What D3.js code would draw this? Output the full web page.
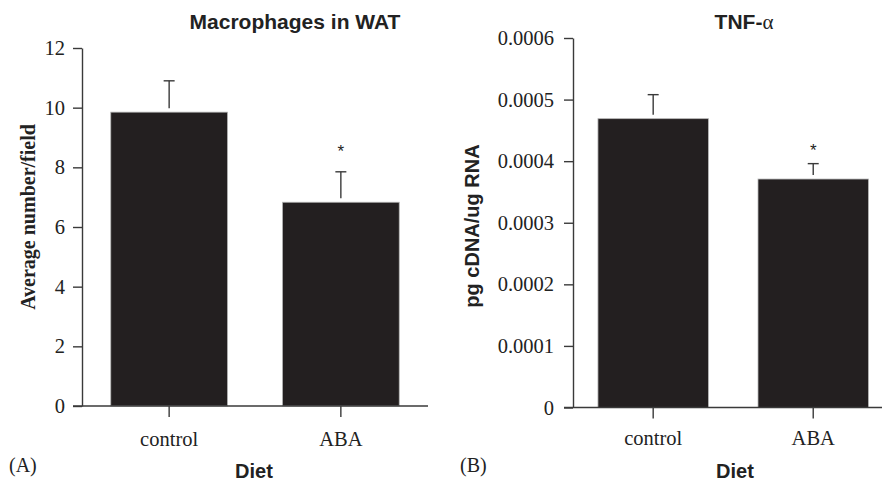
<!DOCTYPE html>
<html lang="en">
<head>
  <meta charset="UTF-8">
  <title>Macrophages and TNF-alpha by diet</title>
  <script src="https://d3js.org/d3.v7.min.js"></script>
  <style>
    body { margin: 0; padding: 0; background: white; }
    svg { display: block; }
    .serif { font-family: 'Liberation Serif', 'Times New Roman', serif; }
    .sans { font-family: 'Liberation Sans', Arial, sans-serif; font-weight: bold; }
  </style>
</head>
<body>
  <div id="chart"></div>

  <script>
    // values
    const diets = ["control", "ABA"];
    const macroMean = [9.85, 6.83];
    const macroErr = [1.05, 1.02];
    const macroTicks = [0, 2, 4, 6, 8, 10, 12];
    const tnfMean = [0.000469, 0.000371];
    const tnfErr = [0.000039, 0.000025];
    const tnfTicks = [0, 0.0001, 0.0002, 0.0003, 0.0004, 0.0005, 0.0006];
    const significant = [false, true];

    const width = 882, height = 484;
    const barColor = "#231f20", axisColor = "#3a3a3a";

    const svg = d3.select("#chart").append("svg")
      .attr("width", width)
      .attr("height", height);

    const panels = [
      {
        means: macroMean, errs: macroErr, ticks: macroTicks, domain: [0, 12],
        fmt: d => d3.format("d")(d),
        axisX: 82, y0: 406, y1: 48, xRange: [82, 428], padIn: 0.32, padOut: 0.1675,
        baseEnd: 428, tickPad: 8, xPad: 14, starGap: 22,
        title: "Macrophages in WAT", titleX: 295,
        ylabel: "Average number/field", ylabelFont: "serif", ylabelX: 35, ylabelY: 217,
        letter: "(A)", letterX: 9, dietX: 254
      },
      {
        means: tnfMean, errs: tnfErr, ticks: tnfTicks, domain: [0, 0.0006],
        fmt: d => d === 0 ? "0" : d3.format(".4f")(d),
        axisX: 573, y0: 407.5, y1: 38, xRange: [573, 893.4], padIn: 0.31, padOut: 0.156,
        baseEnd: 882, tickPad: 10, xPad: 12, starGap: 15,
        title: "TNF-", titleX: 744,
        ylabel: "pg cDNA/ug RNA", ylabelFont: "sans", ylabelX: 479, ylabelY: 226,
        letter: "(B)", letterX: 460, dietX: 735
      }
    ];

    panels.forEach(p => {
      const g = svg.append("g");
      const y = d3.scaleLinear().domain(p.domain).range([p.y0, p.y1]);
      const x = d3.scaleBand().domain(diets).range(p.xRange)
        .paddingInner(p.padIn).paddingOuter(p.padOut);

      // bars
      g.selectAll("rect.bar")
        .data(diets)
        .enter().append("rect")
        .attr("class", "bar")
        .attr("x", d => x(d))
        .attr("y", (d, i) => y(p.means[i]))
        .attr("width", x.bandwidth())
        .attr("height", (d, i) => y(0) - y(p.means[i]))
        .attr("fill", barColor)
        .attr("stroke", "#b5b5b5")
        .attr("stroke-width", 0.8);

      // upper error bars
      diets.forEach((d, i) => {
        const cx = x(d) + x.bandwidth() / 2;
        const top = y(p.means[i] + p.errs[i]);
        g.append("line")
          .attr("x1", cx).attr("x2", cx)
          .attr("y1", y(p.means[i]) - 4).attr("y2", top)
          .attr("stroke", axisColor).attr("stroke-width", 1.4);
        g.append("line")
          .attr("x1", cx - 5.5).attr("x2", cx + 5.5)
          .attr("y1", top).attr("y2", top)
          .attr("stroke", axisColor).attr("stroke-width", 1.4);
        if (significant[i]) {
          g.append("text")
            .attr("class", "sans")
            .attr("x", cx)
            .attr("y", top - p.starGap + 7)
            .attr("text-anchor", "middle")
            .style("font-weight", "normal")
            .style("font-size", "17px")
            .attr("fill", "#222")
            .text("*");
        }
      });

      // y axis
      const yAxis = g.append("g")
        .attr("transform", `translate(${p.axisX},0)`)
        .call(d3.axisLeft(y).tickValues(p.ticks).tickFormat(p.fmt)
          .tickSize(9).tickSizeOuter(0).tickPadding(p.tickPad));
      yAxis.select(".domain").attr("stroke", axisColor).attr("stroke-width", 1.4);
      yAxis.selectAll(".tick line").attr("stroke", axisColor).attr("stroke-width", 1.4);
      yAxis.selectAll(".tick text")
        .attr("class", "serif")
        .attr("fill", "#222")
        .style("font-size", "20.5px");

      // x axis
      const xAxis = g.append("g")
        .attr("transform", `translate(0,${p.y0})`)
        .call(d3.axisBottom(x).tickSize(11).tickSizeOuter(0).tickPadding(p.xPad));
      xAxis.select(".domain").remove();
      xAxis.selectAll(".tick line").attr("stroke", axisColor).attr("stroke-width", 1.4);
      xAxis.selectAll(".tick text")
        .attr("class", "serif")
        .attr("fill", "#222")
        .style("font-size", "20.5px");
      g.append("line")
        .attr("x1", p.axisX - 9).attr("x2", p.baseEnd)
        .attr("y1", p.y0).attr("y2", p.y0)
        .attr("stroke", axisColor).attr("stroke-width", 1.4);

      // title
      const t = g.append("text")
        .attr("class", "sans")
        .attr("x", p.titleX).attr("y", 29)
        .attr("text-anchor", "middle")
        .attr("fill", "#222")
        .style("font-size", "21px")
        .text(p.title);
      if (p.title === "TNF-") {
        t.append("tspan")
          .attr("class", "serif")
          .style("font-weight", "normal")
          .text("α");
      }

      // y label
      g.append("text")
        .attr("class", p.ylabelFont)
        .attr("transform", `translate(${p.ylabelX},${p.ylabelY}) rotate(-90)`)
        .attr("text-anchor", "middle")
        .attr("fill", "#222")
        .style("font-size", "20px")
        .style("font-weight", "bold")
        .text(p.ylabel);

      // panel letter and x label
      g.append("text")
        .attr("class", "serif")
        .attr("x", p.letterX).attr("y", 472)
        .attr("fill", "#222")
        .style("font-size", "20px")
        .text(p.letter);
      g.append("text")
        .attr("class", "sans")
        .attr("x", p.dietX).attr("y", 478)
        .attr("text-anchor", "middle")
        .attr("fill", "#222")
        .style("font-size", "20px")
        .text("Diet");
    });
  </script>
</body>
</html>
